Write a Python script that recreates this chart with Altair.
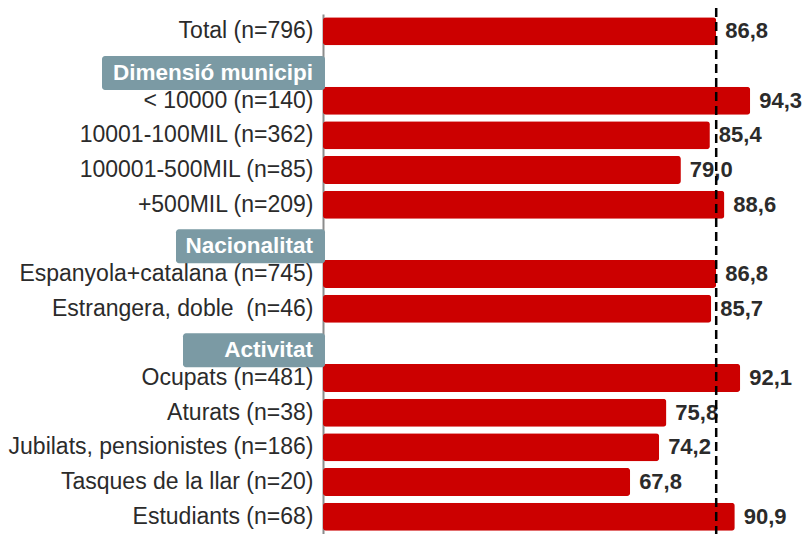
import altair as alt
import pandas as pd

# ---- data ----
categories = [
    "Total (n=796)",
    "_h1",
    "< 10000 (n=140)",
    "10001-100MIL (n=362)",
    "100001-500MIL (n=85)",
    "+500MIL (n=209)",
    "_h2",
    "Espanyola+catalana (n=745)",
    "Estrangera, doble\u00a0 (n=46)",
    "_h3",
    "Ocupats (n=481)",
    "Aturats (n=38)",
    "Jubilats, pensionistes (n=186)",
    "Tasques de la llar (n=20)",
    "Estudiants (n=68)",
]
values = [86.8, None, 94.3, 85.4, 79.0, 88.6, None, 86.8, 85.7, None, 92.1, 75.8, 74.2, 67.8, 90.9]
header_rows = ["_h1", "_h2", "_h3"]
header_texts = ["Dimensió municipi", "Nacionalitat", "Activitat"]
reference_value = 86.8

# ---- style ----
FONT = "Liberation Sans"
BAR_COLOR = "#CC0000"
HEADER_COLOR = "#7B9AA4"
TEXT_COLOR = "#2b2b2b"
HEADER_BOX_LEFT = [-221, -147, -140]
W, H = 453, 520

rows = [(c, v, f"{v:.1f}".replace(".", ",")) for c, v in zip(categories, values) if v is not None]
df = pd.DataFrame(rows, columns=["cat", "val", "lbl"])

yscale = alt.Scale(domain=categories, paddingInner=0.19, paddingOuter=0.095)
xscale = alt.Scale(domain=[0, 100])

base = alt.Chart(df)

bars = base.mark_bar(color=BAR_COLOR, cornerRadius=3).encode(
    y=alt.Y("cat:N", scale=yscale, sort=categories,
            axis=alt.Axis(title=None, ticks=False, labelFontSize=23, labelFont=FONT,
                          labelColor=TEXT_COLOR, labelPadding=10, labelLimit=0,
                          domainColor="#8c8c8c", domainWidth=2,
                          labelExpr="indexof(datum.value, '_h') == 0 ? '' : datum.value")),
    x=alt.X("val:Q", scale=xscale, axis=None),
)

labels = base.mark_text(align="left", baseline="middle", dx=9, fontSize=22,
                        fontWeight="bold", font=FONT, color=TEXT_COLOR).encode(
    y=alt.Y("cat:N", scale=yscale, sort=categories),
    x=alt.X("val:Q", scale=xscale),
    text="lbl:N",
)

layers = [bars, labels]

for hr, ht, left in zip(header_rows, header_texts, HEADER_BOX_LEFT):
    hdf = pd.DataFrame({"cat": [hr], "txt": [ht]})
    box = alt.Chart(hdf).mark_bar(color=HEADER_COLOR, size=34, yOffset=7, cornerRadius=3).encode(
        y=alt.Y("cat:N", scale=yscale, sort=categories),
        x=alt.value(left), x2=alt.value(2),
    )
    txt = alt.Chart(hdf).mark_text(align="right", baseline="middle", yOffset=7, fontSize=22.5,
                                   fontWeight="bold", font=FONT, color="white").encode(
        y=alt.Y("cat:N", scale=yscale, sort=categories),
        x=alt.value(-10),
        text="txt:N",
    )
    layers += [box, txt]

rule = alt.Chart(pd.DataFrame({"ref": [reference_value]})).mark_rule(
    color="black", strokeWidth=2.5, strokeDash=[9, 5]
).encode(
    x=alt.X("ref:Q", scale=xscale),
    y=alt.value(-6), y2=alt.value(H + 4),
)
layers.append(rule)

chart = alt.layer(*layers).properties(
    width=W, height=H,
    autosize=alt.AutoSizeParams(type="none"),
    padding={"left": 315, "top": 6, "right": 28, "bottom": 0},
).configure_view(stroke=None)

chart.save("out.html", embed_options={"renderer": "svg", "actions": False})
